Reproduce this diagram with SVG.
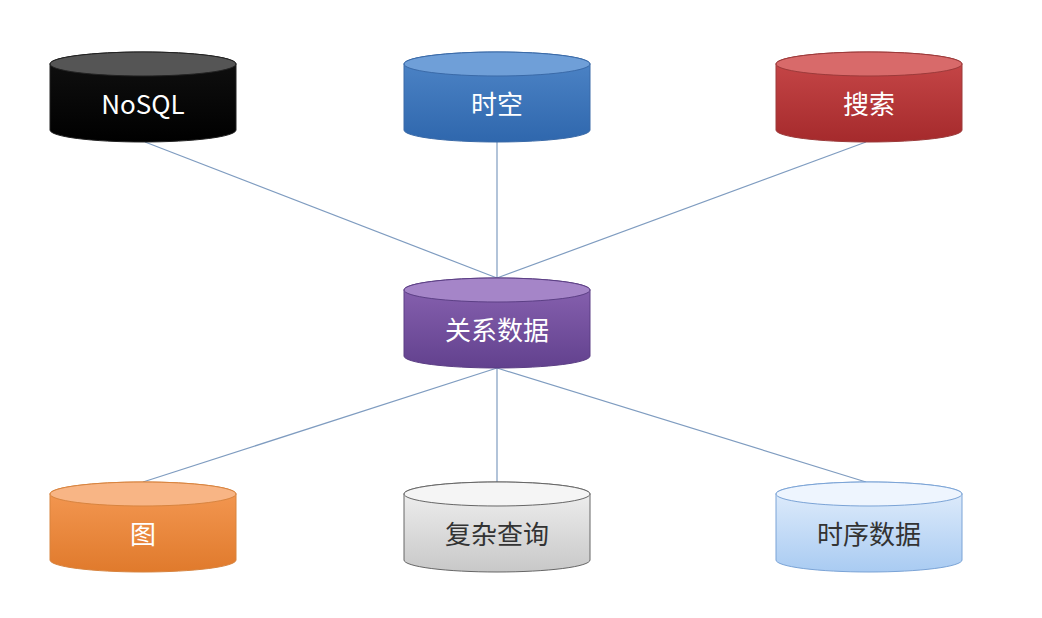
<svg xmlns="http://www.w3.org/2000/svg" width="1042" height="618" viewBox="0 0 1042 618">
<style>
.t{font-family:"Noto Sans CJK SC","Liberation Sans",sans-serif;font-size:26px;text-anchor:middle}
.w{fill:#fff}.d{fill:#333}
.c line{stroke:#7f9cc0;stroke-width:1.2}
</style>
<defs>
<linearGradient id="gk" x1="0" y1="0" x2="0" y2="1"><stop offset="0" stop-color="#111"/><stop offset="1" stop-color="#000"/></linearGradient>
<linearGradient id="gb" x1="0" y1="0" x2="0" y2="1"><stop offset="0" stop-color="#4f86c8"/><stop offset="1" stop-color="#2f67ad"/></linearGradient>
<linearGradient id="gr" x1="0" y1="0" x2="0" y2="1"><stop offset="0" stop-color="#c9494a"/><stop offset="1" stop-color="#a52a2c"/></linearGradient>
<linearGradient id="gp" x1="0" y1="0" x2="0" y2="1"><stop offset="0" stop-color="#8a64b2"/><stop offset="1" stop-color="#62418e"/></linearGradient>
<linearGradient id="go" x1="0" y1="0" x2="0" y2="1"><stop offset="0" stop-color="#f59a55"/><stop offset="1" stop-color="#e07a2c"/></linearGradient>
<linearGradient id="gg" x1="0" y1="0" x2="0" y2="1"><stop offset="0" stop-color="#f2f2f2"/><stop offset="1" stop-color="#c8c8c8"/></linearGradient>
<linearGradient id="gl" x1="0" y1="0" x2="0" y2="1"><stop offset="0" stop-color="#e4effc"/><stop offset="1" stop-color="#a9cbf2"/></linearGradient>
<path id="cyl" d="M0,12 A93,12 0 0 1 186,12 V78 A93,12 0 0 1 0,78 Z"/>
</defs>
<rect width="1042" height="618" fill="#fff"/>
<g class="c">
<line x1="145" y1="142" x2="497" y2="278"/>
<line x1="497" y1="140" x2="497" y2="278"/>
<line x1="866" y1="142" x2="497" y2="278"/>
<line x1="497" y1="368" x2="143" y2="482"/>
<line x1="497" y1="368" x2="497" y2="482"/>
<line x1="497" y1="368" x2="866" y2="482"/>
</g>
<g id="nosql" transform="translate(50,52)"><use href="#cyl" fill="url(#gk)" stroke="#222"/><ellipse cx="93" cy="12" rx="93" ry="12" fill="#555" stroke="#222"/><text class="t w" x="93" y="62" font-family="Liberation Sans">NoSQL</text></g>
<g id="shikong" transform="translate(404,52)"><use href="#cyl" fill="url(#gb)" stroke="#3a6aa8"/><ellipse cx="93" cy="12" rx="93" ry="12" fill="#6f9fd8" stroke="#3a6aa8"/><text class="t w" x="93" y="62">时空</text></g>
<g id="sousuo" transform="translate(776,52)"><use href="#cyl" fill="url(#gr)" stroke="#9c3a3a"/><ellipse cx="93" cy="12" rx="93" ry="12" fill="#d86a6a" stroke="#9c3a3a"/><text class="t w" x="93" y="62">搜索</text></g>
<g id="guanxi" transform="translate(404,278)"><use href="#cyl" fill="url(#gp)" stroke="#5c3f85"/><ellipse cx="93" cy="12" rx="93" ry="12" fill="#a585c8" stroke="#5c3f85"/><text class="t w" x="93" y="62">关系数据</text></g>
<g id="tu" transform="translate(50,482)"><use href="#cyl" fill="url(#go)" stroke="#d8843f"/><ellipse cx="93" cy="12" rx="93" ry="12" fill="#f8b585" stroke="#d8843f"/><text class="t w" x="93" y="62">图</text></g>
<g id="fuza" transform="translate(404,482)"><use href="#cyl" fill="url(#gg)" stroke="#666"/><ellipse cx="93" cy="12" rx="93" ry="12" fill="#f5f5f5" stroke="#666"/><text class="t d" x="93" y="62">复杂查询</text></g>
<g id="shixu" transform="translate(776,482)"><use href="#cyl" fill="url(#gl)" stroke="#7aa3d6"/><ellipse cx="93" cy="12" rx="93" ry="12" fill="#eef5fe" stroke="#7aa3d6"/><text class="t d" x="93" y="62">时序数据</text></g>
</svg>
